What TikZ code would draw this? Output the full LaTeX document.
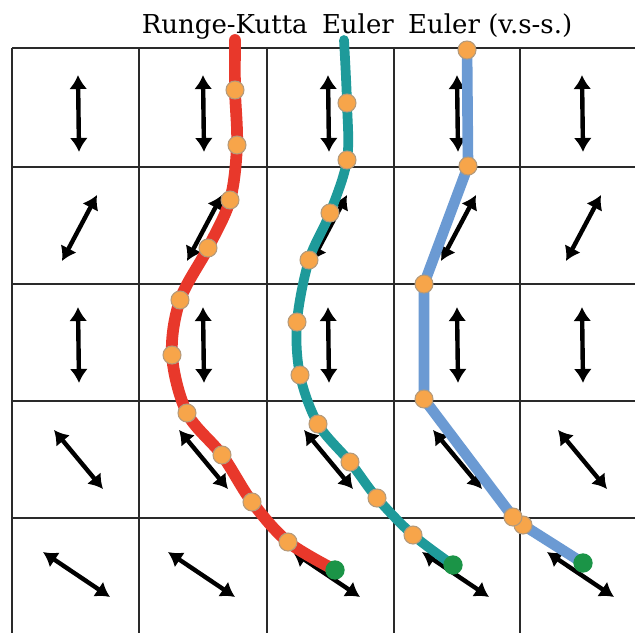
\documentclass[tikz,border=0pt]{standalone}
\usepackage{fontspec}
\setmainfont{DejaVu Serif}
\usetikzlibrary{arrows.meta}
\definecolor{rkred}{HTML}{E8382B}
\definecolor{eteal}{HTML}{1E9A9A}
\definecolor{eblue}{HTML}{6B9AD3}
\definecolor{dotor}{HTML}{F7A54A}
\definecolor{dotrim}{HTML}{B59A7A}
\definecolor{dotgr}{HTML}{1B9447}
\definecolor{gridc}{HTML}{2A2A2A}
\tikzset{
  gridline/.style={draw=gridc, line width=1.5pt},
  fieldarrow/.style={draw=black, line width=3.3pt, {Latex[length=10.5pt,width=13.5pt]}-{Latex[length=10.5pt,width=13.5pt]}},
  curve/.style={line width=#1, line cap=round, line join=round},
  odot/.style={circle, fill=dotor, draw=dotrim, line width=0.8pt, minimum size=13.5pt, inner sep=0pt},
  gdot/.style={circle, fill=dotgr, minimum size=14.5pt, inner sep=0pt},
  titletext/.style={font=\fontsize{19.5}{22}\selectfont, inner sep=0pt, anchor=base}
}
\begin{document}
\begin{tikzpicture}[x=0.75pt,y=-0.75pt]
\useasboundingbox (0,0) rectangle (635,632);
\fill[white] (0,0) rectangle (635,632);
\node[titletext] (title) at (357,33) {Runge-Kutta\hspace{0.55em}Euler\hspace{0.55em}Euler (v.s-s.)};
\begin{scope}
\clip (0,0) rectangle (635,632);
% grid
\foreach \gx in {12,139,267,394,520} \draw[gridline] (\gx,48) -- (\gx,650);
\foreach \gy in {48,167,284,401,518} \draw[gridline] (12,\gy) -- (650,\gy);
% field arrows
\foreach \cx in {78,203,328,457,582} {
  \draw[fieldarrow] (\cx+1,152) -- (\cx,75);
  \draw[fieldarrow] (\cx-16,261) -- (\cx+19,195);
  \draw[fieldarrow] (\cx+1,383) -- (\cx,307);
  \draw[fieldarrow] (\cx-24,430) -- (\cx+25,489);
  \draw[fieldarrow] (\cx-35,552) -- (\cx+32,597);
}
% curves
\draw[rkred, curve=8.8pt] plot[smooth, tension=0.55] coordinates {(235,40) (235,90) (237,145) (230,200) (208,248) (180,300) (172,355) (187,413) (222,455) (252,502) (288,542) (335,570)};
\draw[eteal, curve=7.3pt] plot[smooth, tension=0.55] coordinates {(344,40) (347,103) (347,160) (330,213) (309,260) (297,322) (300,375) (318,424) (350,462) (377,498) (413,535) (453,565)};
\draw[eblue, curve=8pt] (467,48) -- (468,166) -- (424,284) -- (424,399) -- (513,517) -- (523,525) -- (583,563);
% dots
\foreach \p [count=\i] in {(235,90),(237,145),(230,200),(208,248),(180,300),(172,355),(187,413),(222,455),(252,502),(288,542)}
  \node[odot] (r\i) at \p {};
\node[gdot] (rend) at (335,570) {};
\foreach \p [count=\i] in {(347,103),(347,160),(330,213),(309,260),(297,322),(300,375),(318,424),(350,462),(377,498),(413,535)}
  \node[odot] (t\i) at \p {};
\node[gdot] (tend) at (453,565) {};
\foreach \p [count=\i] in {(467,50),(468,166),(424,284),(424,399),(523,525),(513,517)}
  \node[odot] (b\i) at \p {};
\node[gdot] (bend) at (583,563) {};
\end{scope}
\end{tikzpicture}
\end{document}
